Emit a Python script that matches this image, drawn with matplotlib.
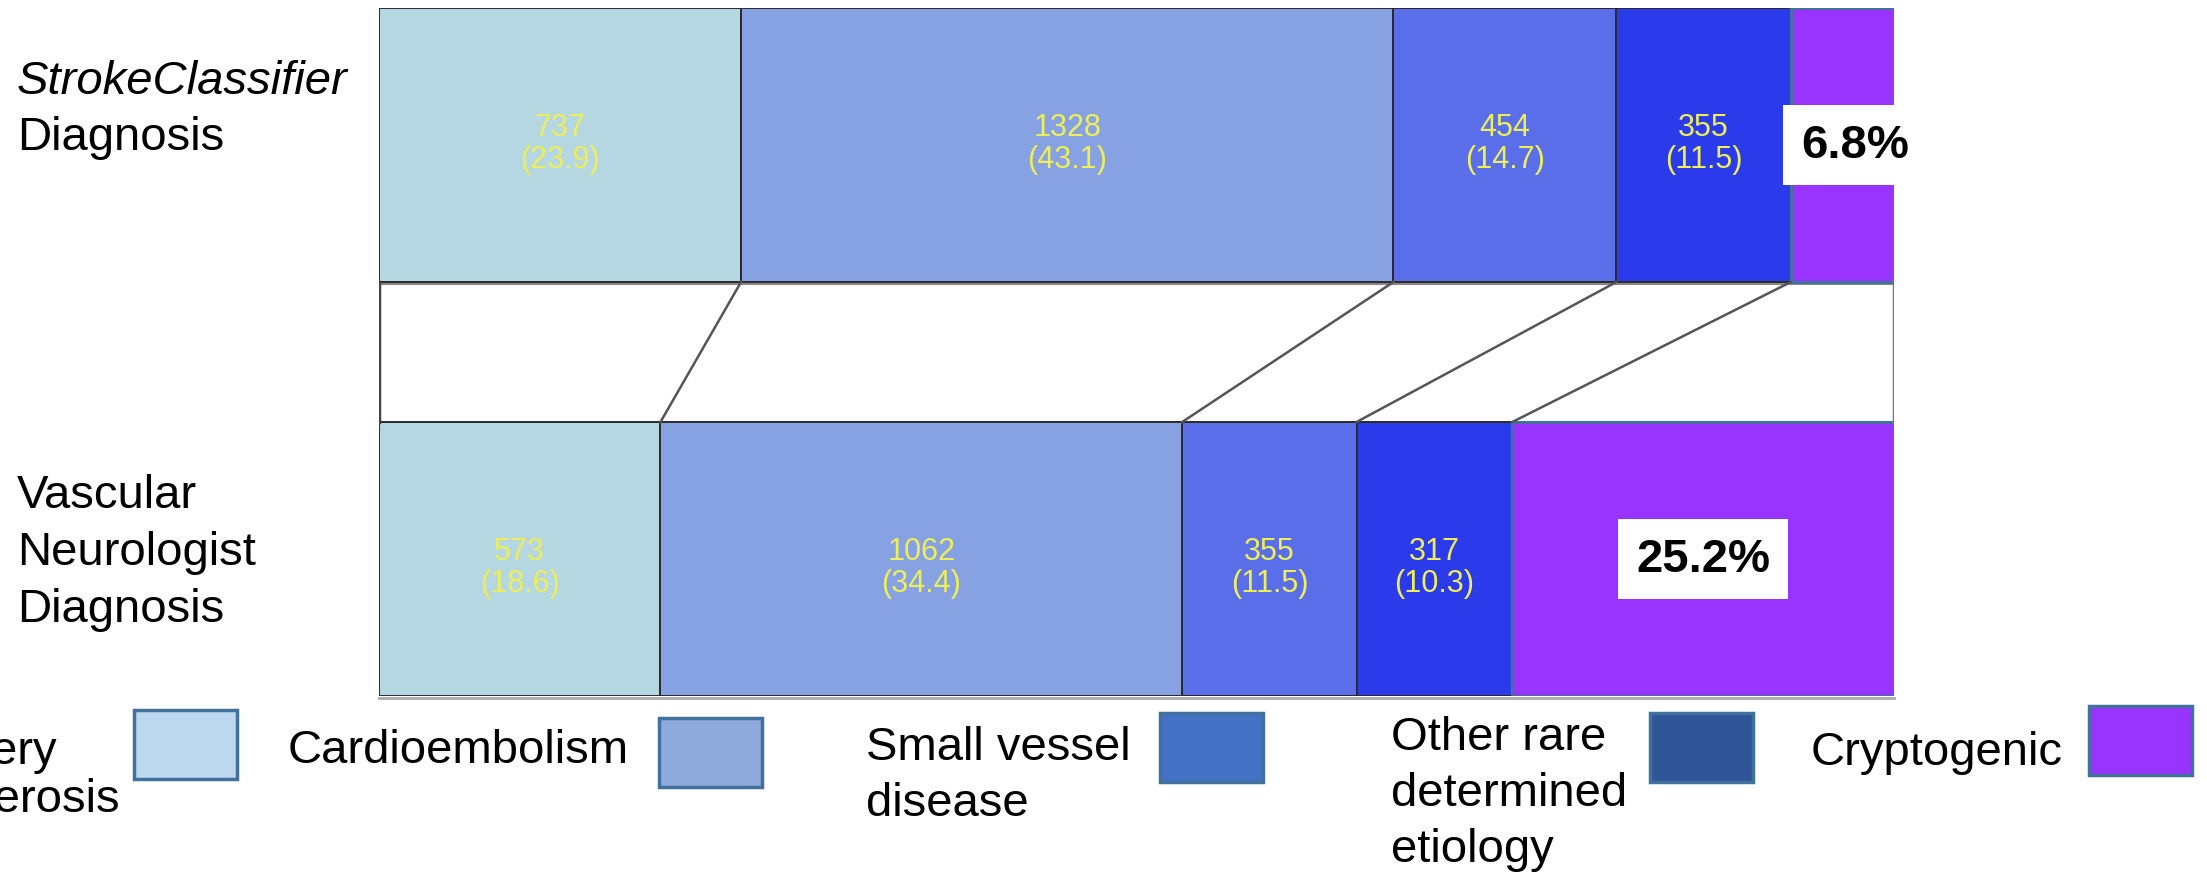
import matplotlib
matplotlib.use('Agg')
import matplotlib.pyplot as plt
from matplotlib.patches import Rectangle

plt.rcParams['font.family'] = ['Liberation Sans', 'DejaVu Sans']

# counts per etiology (cryptogenic counts derived from the 6.8% / 25.2% shares)
categories = ['Large artery\natherosclerosis', 'Cardioembolism', 'Small vessel\ndisease',
              'Other rare\ndetermined\netiology', 'Cryptogenic']
classifier_counts = [737, 1328, 454, 355, 210]
neurologist_counts = [573, 1062, 355, 317, 777]

bar_colors = ['#b5d7e2', '#87a2e3', '#5b6ee9', '#2b3bec', '#9933ff']
legend_colors = ['#bdd7ee', '#8faadc', '#4472c4', '#2f5597', '#9933ff']

W, H = 2207, 878
fig = plt.figure(figsize=(W / 100, H / 100), dpi=100)


def fx(x):
    return x / W


def fy(y):
    return 1 - y / H


# main axes in pixel layout: bars span x 379..1894, y 9..697
ax = fig.add_axes([fx(379), fy(697), (1894 - 379) / W, (697 - 9) / H])
total = sum(classifier_counts)
ax.set_xlim(0, total)
ax.set_ylim(688, 0)
ax.axis('off')

rows = [(classifier_counts, 137, 25, -2), (neurologist_counts, 551, 0, 8)]
bar_h = 274
for counts, yc, shift, dy in rows:
    left = 0
    for i, c in enumerate(counts):
        last = i == len(counts) - 1
        ax.barh(yc, c, left=left, height=bar_h, color=bar_colors[i],
                edgecolor='#41719c' if last else '#2a2a2a',
                linewidth=2.2 if last else 1.4)
        if not last:
            ax.text(left + c / 2, yc + dy, f'{c}\n({c / total * 100:.1f})',
                    ha='center', va='center', color='#eeee58', fontsize=22,
                    linespacing=1.1)
        else:
            ax.text(left + c / 2 + shift, yc, f'{c / total * 100:.1f}%',
                    ha='center', va='center', color='black', fontsize=34,
                    fontweight='bold',
                    bbox=dict(boxstyle='square,pad=0.38', fc='white', ec='none'))
        left += c

# shadow lines under bars
ax.plot([0, total], [bar_h + 2, bar_h + 2], color='#888888', lw=1.5, zorder=0)
ax.plot([0, total], [688 + 2, 688 + 2], color='#aaaaaa', lw=2, zorder=0,
        clip_on=False)

# connectors between cumulative boundaries
top_cum = 0
bot_cum = 0
for a, b in zip(classifier_counts[:-1], neurologist_counts[:-1]):
    top_cum += a
    bot_cum += b
    ax.plot([top_cum, bot_cum], [bar_h, 688 - bar_h], color='#555555', lw=1.8)
ax.plot([0, 0], [bar_h, 688 - bar_h], color='#444444', lw=2.5)
ax.plot([total, total], [bar_h, 688 - bar_h], color='#777777', lw=2.5)

# row labels
fs = 34
fig.text(fx(17), fy(94), 'StrokeClassifier', fontsize=fs, style='italic',
         va='baseline')
fig.text(fx(17), fy(150), 'Diagnosis', fontsize=fs, va='baseline')
for txt, yb in zip(['Vascular', 'Neurologist', 'Diagnosis'], [508, 565, 622]):
    fig.text(fx(17), fy(yb), txt, fontsize=fs, va='baseline')

# legend
patch_boxes = [(134, 711), (659, 719), (1160, 714), (1650, 714), (2089, 707)]
patch_w, patch_h = 103, 69
for (px0, py0), col in zip(patch_boxes, legend_colors):
    fig.patches.append(Rectangle((fx(px0), fy(py0 + patch_h)), patch_w / W, patch_h / H,
                                 transform=fig.transFigure, facecolor=col,
                                 edgecolor='#41719c', linewidth=2.5))

fig.text(fx(120), fy(812), categories[0], fontsize=fs, ha='right', va='baseline',
         multialignment='left', linespacing=1.12)
fig.text(fx(288), fy(763), categories[1], fontsize=fs, va='baseline')
fig.text(fx(866), fy(760), categories[2].split('\n')[0], fontsize=fs, va='baseline')
fig.text(fx(866), fy(816), categories[2].split('\n')[1], fontsize=fs, va='baseline')
for j, line in enumerate(categories[3].split('\n')):
    fig.text(fx(1391), fy(750 + 56 * j), line, fontsize=fs, va='baseline')
fig.text(fx(1811), fy(765), categories[4], fontsize=fs, va='baseline')

fig.savefig('out.png', dpi=100)
